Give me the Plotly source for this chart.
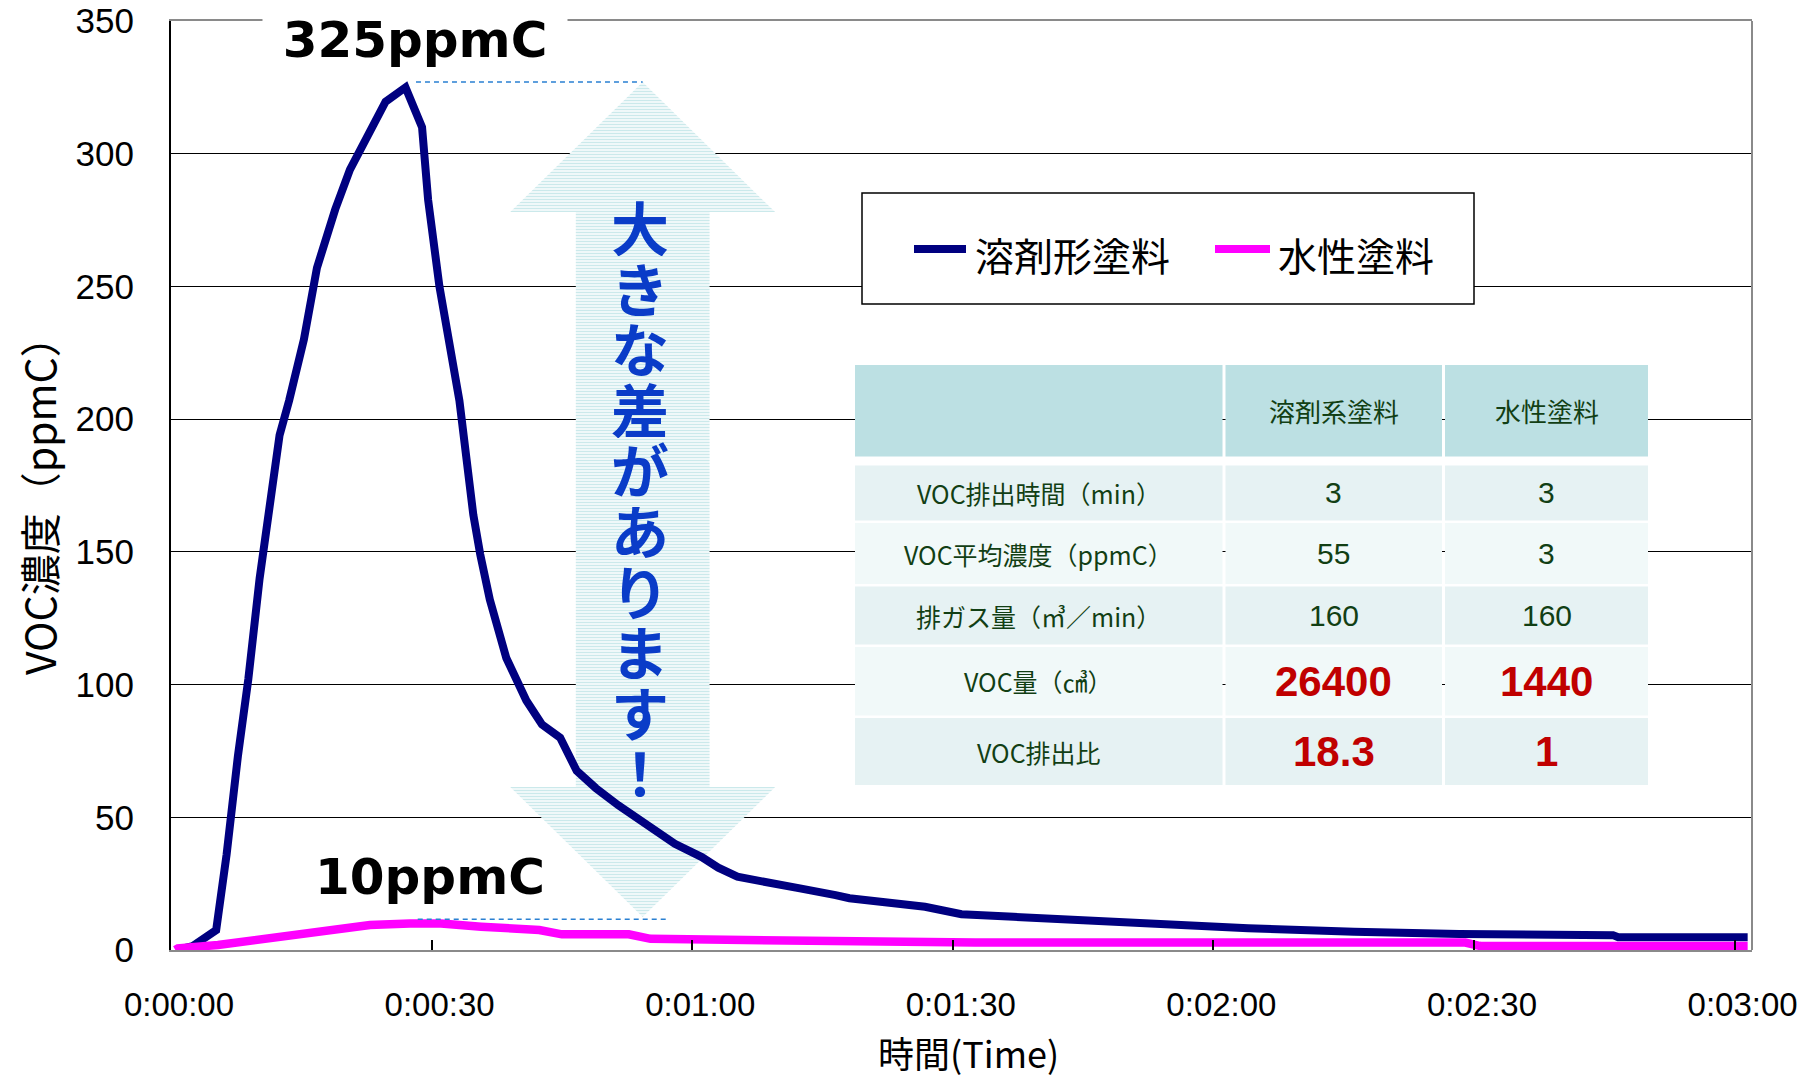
import plotly.graph_objects as go

# ---------------------------------------------------------------- data
# elapsed time (s) and VOC concentration (ppmC) for solvent-borne paint
solvent_t = [0.7, 2.5, 5.2, 6.4, 7.7, 8.9, 10.2, 11.4, 12.5, 13.6, 15.3, 16.8,
             18.9, 20.6, 21.4, 24.0, 24.7, 27.0, 28.9, 29.6, 30.9, 33.2, 33.8,
             34.8, 35.6, 36.7, 38.6, 40.9, 42.7, 44.8, 46.7, 48.9, 51.5, 54.5,
             58.0, 61.1, 63.0, 65.2, 68.5, 72.4, 76.5, 78.1, 86.8, 91.0, 97.0,
             103.8, 109.9, 116.0, 124.0, 136.2, 148.3, 166.0, 166.6, 181.5]
solvent_ppmc = [0, 1.5, 7.5, 36, 73, 102, 140, 167, 194, 207, 230, 257,
                279, 294, 299, 315, 319.6, 325, 310, 282.6, 250, 207, 190,
                164, 149, 132, 110, 94, 85, 80, 67.5, 61, 54.5, 47.5,
                40, 35, 31, 27.6, 25.3, 23.2, 20.7, 19.5, 16.3, 13.5, 12.5,
                11.4, 10.3, 9.4, 8.2, 6.9, 6.0, 5.6, 4.8, 4.8]

# elapsed time (s) and VOC concentration (ppmC) for water-borne paint
water_t = [0.5, 0.8, 5.4, 9.0, 14.2, 17.7, 22.9, 27.5, 31.1, 35.7, 42.4, 45.0,
           52.7, 55.2, 64.4, 67.0, 91.5, 92.6, 149.0, 150.7, 181.5]
water_ppmc = [0, 0.6, 1.9, 3.5, 6.0, 7.3, 9.4, 10, 10, 8.8, 7.5, 5.9,
              5.9, 4.2, 4.0, 3.6, 3.6, 2.8, 2.8, 1.5, 1.5]

series_names = ["溶剤形塗料", "水性塗料"]

x_tick_seconds = [0, 30, 60, 90, 120, 150, 180]
x_tick_labels = ["0:00:00", "0:00:30", "0:01:00", "0:01:30", "0:02:00", "0:02:30", "0:03:00"]
y_tick_values = [0, 50, 100, 150, 200, 250, 300, 350]

x_title = "時間(Time)"
y_title = "VOC濃度（ppmC）"
gap_message = "大きな差があります！"

# summary table
table_header = ["", "溶剤系塗料", "水性塗料"]
table_items = ["VOC排出時間（min）", "VOC平均濃度（ppmC）", "排ガス量（㎥／min）", "VOC量（㎤）", "VOC排出比"]
table_solvent = ["3", "55", "160", "26400", "18.3"]
table_water = ["3", "3", "160", "1440", "1"]
table_highlight = [False, False, False, True, True]

# ---------------------------------------------------------------- layout helpers
W, H = 1814, 1080
PL, PR, PT, PB = 171, 1752, 21, 950
X_MAX = 182.0


def pxx(X):
    return (X - PL) / (PR - PL)


def pxy(Y):
    return (PB - Y) / (PB - PT)


NAVY = "#000080"
MAGENTA = "#ff00ff"
GUIDE = "#2a80d2"
TXT_GREEN = "#123f14"
RED = "#c00000"
CJK = "Noto Sans CJK JP"
LATIN = "Liberation Sans"

solvent_peak = max(solvent_ppmc)
water_peak = max(water_ppmc)
solvent_peak_t = solvent_t[solvent_ppmc.index(solvent_peak)]

fig = go.Figure()

# double-headed arrow spanning the two peak levels
a_cx = 54.3
a_head = 15.25
a_shaft = 7.7
a_top = solvent_peak + 2
a_bot = water_peak + 2.4
a_hh = 49
arrow_x = [a_cx, a_cx + a_head, a_cx + a_shaft, a_cx + a_shaft, a_cx + a_head, a_cx,
           a_cx - a_head, a_cx - a_shaft, a_cx - a_shaft, a_cx - a_head, a_cx]
arrow_y = [a_top, a_top - a_hh, a_top - a_hh, a_bot + a_hh, a_bot + a_hh, a_bot,
           a_bot + a_hh, a_bot + a_hh, a_top - a_hh, a_top - a_hh, a_top]
fig.add_trace(go.Scatter(
    x=arrow_x, y=arrow_y, mode="lines", fill="toself",
    line=dict(width=0, color="rgba(0,0,0,0)"),
    fillcolor="rgba(0,0,0,0)",
    fillpattern=dict(shape="-", fgcolor="#98d3d7", bgcolor="white", size=3, solidity=0.55),
    hoverinfo="skip", showlegend=False,
))

fig.add_trace(go.Scatter(
    x=solvent_t, y=solvent_ppmc, mode="lines", name=series_names[0],
    line=dict(color=NAVY, width=8), showlegend=False,
))
fig.add_trace(go.Scatter(
    x=water_t, y=water_ppmc, mode="lines", name=series_names[1],
    line=dict(color=MAGENTA, width=8.5), showlegend=False,
))

shapes = []
annotations = []


def note(**kw):
    kw.setdefault("showarrow", False)
    kw.setdefault("xanchor", "center")
    kw.setdefault("yanchor", "middle")
    annotations.append(kw)


# dashed guide lines at the two peaks
shapes.append(dict(type="line", xref="x", yref="y", x0=solvent_peak_t + 1.2, x1=a_cx,
                   y0=solvent_peak + 2, y1=solvent_peak + 2,
                   line=dict(color=GUIDE, width=1.5, dash="5px,4px")))
shapes.append(dict(type="line", xref="x", yref="y", x0=solvent_peak_t + 1.4, x1=a_cx + 3,
                   y0=water_peak + 1.6, y1=water_peak + 1.6,
                   line=dict(color=GUIDE, width=1.5, dash="5px,4px")))

# right border of the plot area
shapes.append(dict(type="line", xref="paper", yref="paper", x0=1, x1=1, y0=0, y1=1,
                   line=dict(color="#8a8a8a", width=2)))

# peak labels
note(x=28.1, y=343, xref="x", yref="y", text=f"{solvent_peak:g}ppmC",
     font=dict(family="DejaVu Sans", size=50, color="black", weight="bold"),
     bgcolor="white", borderpad=2, width=300, height=56)
note(x=29.8, y=27.5, xref="x", yref="y", text=f"{water_peak:g}ppmC",
     font=dict(family="DejaVu Sans", size=50, color="black", weight="bold"))

# vertical message inside the arrow, one glyph per row
for i, ch in enumerate(gap_message):
    note(x=a_cx - 0.3, y=pxy(226 + i * 60.6), xref="x", yref="paper", text=ch,
         height=60, font=dict(family=CJK, size=58, color="#0a3cc8", weight="bold"))

# legend box
shapes.append(dict(type="rect", xref="paper", yref="paper",
                   x0=pxx(862), x1=pxx(1474), y0=pxy(304), y1=pxy(193),
                   line=dict(color="black", width=1.5), fillcolor="white", layer="above"))
legend_items = [(NAVY, 914, 966, 973), (MAGENTA, 1215, 1270, 1276)]
for name, (col, lx0, lx1, tx) in zip(series_names, legend_items):
    shapes.append(dict(type="line", xref="paper", yref="paper",
                       x0=pxx(lx0), x1=pxx(lx1), y0=pxy(249), y1=pxy(249),
                       line=dict(color=col, width=8), layer="above"))
    note(x=pxx(tx), y=pxy(254), xref="paper", yref="paper", xanchor="left", text=name,
         font=dict(family=CJK, size=39, color="black"))

# summary table
col_edges = [(855, 1222.5), (1225.5, 1442), (1445, 1648)]
row_edges = [(365, 456.5), (465.5, 520.5), (523, 584), (586.5, 644.5), (647, 715.5), (718, 785)]
row_fills = ["#bce0e3", "#e6f2f3", "#f1f9f9", "#e6f2f3", "#f1f9f9", "#e6f2f3"]
for (y0, y1), fill in zip(row_edges, row_fills):
    for (x0, x1) in col_edges:
        shapes.append(dict(type="rect", xref="paper", yref="paper",
                           x0=pxx(x0), x1=pxx(x1), y0=pxy(y1), y1=pxy(y0),
                           line=dict(width=0), fillcolor=fill, layer="above"))


def cell_center(r, c):
    (x0, x1), (y0, y1) = col_edges[c], row_edges[r]
    return pxx((x0 + x1) / 2), pxy((y0 + y1) / 2)


for c, txt in enumerate(table_header):
    if txt:
        cx, cy = cell_center(0, c)
        note(x=cx, y=cy, xref="paper", yref="paper", text=txt,
             font=dict(family=CJK, size=26, color=TXT_GREEN))
for r, (item, sv, wv, hl) in enumerate(zip(table_items, table_solvent, table_water, table_highlight), start=1):
    cx, cy = cell_center(r, 0)
    note(x=cx, y=cy, xref="paper", yref="paper", text=item,
         font=dict(family=CJK, size=25, color=TXT_GREEN))
    for c, v in ((1, sv), (2, wv)):
        cx, cy = cell_center(r, c)
        if hl:
            f = dict(family=LATIN, size=42, color=RED, weight="bold")
        else:
            f = dict(family=LATIN, size=30, color=TXT_GREEN)
        note(x=cx, y=cy, xref="paper", yref="paper", text=v, font=f)

# axis titles
note(x=pxx(968), y=pxy(1052), xref="paper", yref="paper", text=x_title,
     font=dict(family=CJK, size=36, color="black"))
note(x=pxx(38), y=pxy(496), xref="paper", yref="paper", text=y_title, textangle=-90,
     font=dict(family=CJK, size=41, color="black"))

fig.update_layout(
    width=W, height=H,
    margin=dict(l=PL, r=W - PR, t=PT, b=H - PB, autoexpand=False),
    paper_bgcolor="white", plot_bgcolor="white",
    showlegend=False,
    shapes=shapes, annotations=annotations,
    xaxis=dict(range=[0, X_MAX], tickvals=x_tick_seconds, ticktext=x_tick_labels,
               showgrid=False, zeroline=False,
               showline=True, linecolor="#8a8a8a", linewidth=2, mirror=True,
               ticks="inside", ticklen=10, tickcolor="black", tickwidth=1.5,
               ticklabelstandoff=24, ticklabelshift=8,
               tickfont=dict(family=LATIN, size=33, color="black")),
    yaxis=dict(range=[0, 350], tickvals=y_tick_values,
               showgrid=True, gridcolor="black", gridwidth=1,
               zeroline=False, showline=True, linecolor="black", linewidth=2,
               ticks="", ticklabelstandoff=28,
               tickfont=dict(family=LATIN, size=35, color="black")),
)

fig.write_html("out.html")
